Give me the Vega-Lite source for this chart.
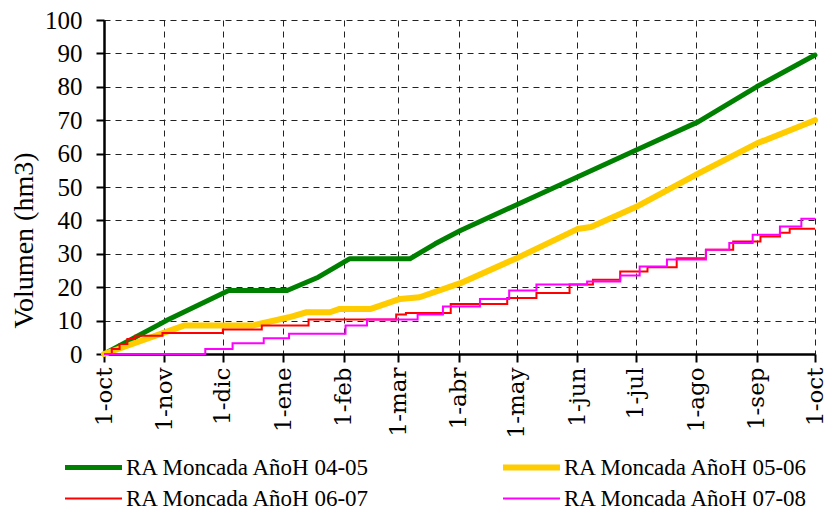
{
  "$schema": "https://vega.github.io/schema/vega-lite/v6.json",
  "width": 711,
  "height": 334,
  "padding": {"left": 10, "top": 8, "right": 5, "bottom": 5},
  "background": "white",
  "datasets": {
    "smooth": [
      {"serie": "RA Moncada AñoH 04-05", "dia": 0, "vol": 0},
      {"serie": "RA Moncada AñoH 04-05", "dia": 32, "vol": 10},
      {"serie": "RA Moncada AñoH 04-05", "dia": 64, "vol": 19},
      {"serie": "RA Moncada AñoH 04-05", "dia": 94, "vol": 19},
      {"serie": "RA Moncada AñoH 04-05", "dia": 110, "vol": 23},
      {"serie": "RA Moncada AñoH 04-05", "dia": 126, "vol": 28.5},
      {"serie": "RA Moncada AñoH 04-05", "dia": 157, "vol": 28.5},
      {"serie": "RA Moncada AñoH 04-05", "dia": 170, "vol": 33},
      {"serie": "RA Moncada AñoH 04-05", "dia": 183, "vol": 37},
      {"serie": "RA Moncada AñoH 04-05", "dia": 213, "vol": 45},
      {"serie": "RA Moncada AñoH 04-05", "dia": 243, "vol": 53},
      {"serie": "RA Moncada AñoH 04-05", "dia": 273, "vol": 61},
      {"serie": "RA Moncada AñoH 04-05", "dia": 305, "vol": 69.5},
      {"serie": "RA Moncada AñoH 04-05", "dia": 335, "vol": 80},
      {"serie": "RA Moncada AñoH 04-05", "dia": 365, "vol": 89.5},
      {"serie": "RA Moncada AñoH 05-06", "dia": 0, "vol": 0},
      {"serie": "RA Moncada AñoH 05-06", "dia": 41, "vol": 8.5},
      {"serie": "RA Moncada AñoH 05-06", "dia": 76, "vol": 8.5},
      {"serie": "RA Moncada AñoH 05-06", "dia": 95, "vol": 11},
      {"serie": "RA Moncada AñoH 05-06", "dia": 104, "vol": 12.5},
      {"serie": "RA Moncada AñoH 05-06", "dia": 116, "vol": 12.5},
      {"serie": "RA Moncada AñoH 05-06", "dia": 121, "vol": 13.5},
      {"serie": "RA Moncada AñoH 05-06", "dia": 137, "vol": 13.5},
      {"serie": "RA Moncada AñoH 05-06", "dia": 152, "vol": 16.5},
      {"serie": "RA Moncada AñoH 05-06", "dia": 162, "vol": 17},
      {"serie": "RA Moncada AñoH 05-06", "dia": 183, "vol": 21.2},
      {"serie": "RA Moncada AñoH 05-06", "dia": 213, "vol": 29},
      {"serie": "RA Moncada AñoH 05-06", "dia": 243, "vol": 37.4},
      {"serie": "RA Moncada AñoH 05-06", "dia": 250, "vol": 38},
      {"serie": "RA Moncada AñoH 05-06", "dia": 273, "vol": 44},
      {"serie": "RA Moncada AñoH 05-06", "dia": 305, "vol": 54},
      {"serie": "RA Moncada AñoH 05-06", "dia": 335, "vol": 63},
      {"serie": "RA Moncada AñoH 05-06", "dia": 365, "vol": 70}
    ],
    "steps": [
      {"serie": "RA Moncada AñoH 06-07", "dia": 0, "vol": 0},
      {"serie": "RA Moncada AñoH 06-07", "dia": 4, "vol": 1.5},
      {"serie": "RA Moncada AñoH 06-07", "dia": 8, "vol": 3},
      {"serie": "RA Moncada AñoH 06-07", "dia": 12, "vol": 4.5},
      {"serie": "RA Moncada AñoH 06-07", "dia": 16, "vol": 5.5},
      {"serie": "RA Moncada AñoH 06-07", "dia": 30, "vol": 6.3},
      {"serie": "RA Moncada AñoH 06-07", "dia": 61, "vol": 7.3},
      {"serie": "RA Moncada AñoH 06-07", "dia": 81, "vol": 8.5},
      {"serie": "RA Moncada AñoH 06-07", "dia": 105, "vol": 10.3},
      {"serie": "RA Moncada AñoH 06-07", "dia": 150, "vol": 11.8},
      {"serie": "RA Moncada AñoH 06-07", "dia": 155, "vol": 12.3},
      {"serie": "RA Moncada AñoH 06-07", "dia": 178, "vol": 15},
      {"serie": "RA Moncada AñoH 06-07", "dia": 207, "vol": 16.8},
      {"serie": "RA Moncada AñoH 06-07", "dia": 222, "vol": 18.3},
      {"serie": "RA Moncada AñoH 06-07", "dia": 239, "vol": 20.8},
      {"serie": "RA Moncada AñoH 06-07", "dia": 251, "vol": 22.2},
      {"serie": "RA Moncada AñoH 06-07", "dia": 265, "vol": 24.7},
      {"serie": "RA Moncada AñoH 06-07", "dia": 279, "vol": 26},
      {"serie": "RA Moncada AñoH 06-07", "dia": 294, "vol": 28.7},
      {"serie": "RA Moncada AñoH 06-07", "dia": 309, "vol": 31.2},
      {"serie": "RA Moncada AñoH 06-07", "dia": 323, "vol": 33.7},
      {"serie": "RA Moncada AñoH 06-07", "dia": 337, "vol": 35.2},
      {"serie": "RA Moncada AñoH 06-07", "dia": 347, "vol": 36.3},
      {"serie": "RA Moncada AñoH 06-07", "dia": 352, "vol": 37.5},
      {"serie": "RA Moncada AñoH 06-07", "dia": 365, "vol": 37.5},
      {"serie": "RA Moncada AñoH 07-08", "dia": 0, "vol": 0},
      {"serie": "RA Moncada AñoH 07-08", "dia": 48, "vol": 0},
      {"serie": "RA Moncada AñoH 07-08", "dia": 52, "vol": 1.5},
      {"serie": "RA Moncada AñoH 07-08", "dia": 66, "vol": 3.2},
      {"serie": "RA Moncada AñoH 07-08", "dia": 82, "vol": 4.7},
      {"serie": "RA Moncada AñoH 07-08", "dia": 95, "vol": 6.1},
      {"serie": "RA Moncada AñoH 07-08", "dia": 124, "vol": 8.5},
      {"serie": "RA Moncada AñoH 07-08", "dia": 135, "vol": 10.3},
      {"serie": "RA Moncada AñoH 07-08", "dia": 161, "vol": 11.8},
      {"serie": "RA Moncada AñoH 07-08", "dia": 174, "vol": 14.2},
      {"serie": "RA Moncada AñoH 07-08", "dia": 193, "vol": 16.5},
      {"serie": "RA Moncada AñoH 07-08", "dia": 208, "vol": 19},
      {"serie": "RA Moncada AñoH 07-08", "dia": 222, "vol": 20.8},
      {"serie": "RA Moncada AñoH 07-08", "dia": 248, "vol": 21.7},
      {"serie": "RA Moncada AñoH 07-08", "dia": 265, "vol": 23.5},
      {"serie": "RA Moncada AñoH 07-08", "dia": 275, "vol": 26.2},
      {"serie": "RA Moncada AñoH 07-08", "dia": 289, "vol": 28.3},
      {"serie": "RA Moncada AñoH 07-08", "dia": 309, "vol": 31.2},
      {"serie": "RA Moncada AñoH 07-08", "dia": 321, "vol": 33.2},
      {"serie": "RA Moncada AñoH 07-08", "dia": 333, "vol": 35.7},
      {"serie": "RA Moncada AñoH 07-08", "dia": 347, "vol": 38.2},
      {"serie": "RA Moncada AñoH 07-08", "dia": 358, "vol": 40.5},
      {"serie": "RA Moncada AñoH 07-08", "dia": 365, "vol": 40.5}
    ]
  },
  "encoding": {
    "x": {
      "field": "dia", "type": "quantitative",
      "scale": {"domain": [0, 365], "nice": false, "zero": false},
      "axis": {
        "title": null,
        "grid": true,
        "values": [0, 31, 61, 92, 123, 151, 182, 212, 243, 273, 304, 335, 365],
        "labelExpr": "['1-oct','1-nov','1-dic','1-ene','1-feb','1-mar','1-abr','1-may','1-jun','1-jul','1-ago','1-sep','1-oct'][indexof([0,31,61,92,123,151,182,212,243,273,304,335,365], datum.value)]",
        "labelAngle": 270,
        "labelFont": "DejaVu Serif",
        "labelFontSize": 23,
        "labelPadding": 5,
        "labelBound": false,
        "labelOverlap": false,
        "labelFlush": false
      }
    },
    "y": {
      "field": "vol", "type": "quantitative",
      "scale": {"domain": [0, 100], "nice": false},
      "axis": {
        "title": "Volumen (hm3)",
        "grid": true,
        "values": [0, 10, 20, 30, 40, 50, 60, 70, 80, 90, 100],
        "labelFontSize": 25,
        "labelPadding": 14,
        "titlePadding": 6,
        "titleY": 220,
        "titleFontSize": 28,
        "labelFlush": false,
        "labelOverlap": false
      }
    },
    "color": {
      "field": "serie", "type": "nominal",
      "scale": {
        "domain": ["RA Moncada AñoH 04-05", "RA Moncada AñoH 05-06", "RA Moncada AñoH 06-07", "RA Moncada AñoH 07-08"],
        "range": ["#008000", "#FFCC00", "#FF0000", "#FF00FF"]
      },
      "legend": {
        "title": null,
        "orient": "none",
        "direction": "horizontal",
        "legendX": -42,
        "legendY": 432,
        "columns": 2,
        "columnPadding": 129,
        "rowPadding": 0,
        "clipHeight": 31,
        "symbolType": "stroke",
        "symbolSize": 3249,
        "labelOffset": 1,
        "labelFontSize": 23,
        "labelLimit": 400
      }
    },
    "strokeWidth": {
      "field": "serie", "type": "nominal",
      "scale": {
        "type": "ordinal",
        "domain": ["RA Moncada AñoH 04-05", "RA Moncada AñoH 05-06", "RA Moncada AñoH 06-07", "RA Moncada AñoH 07-08"],
        "range": [5, 6, 2, 2]
      },
      "legend": null
    }
  },
  "layer": [
    {"data": {"name": "smooth"}, "mark": {"type": "line", "interpolate": "linear", "strokeCap": "round", "strokeJoin": "round"}},
    {"data": {"name": "steps"}, "mark": {"type": "line", "interpolate": "step-after"}}
  ],
  "config": {
    "font": "Liberation Serif, DejaVu Serif, serif",
    "view": {"stroke": null},
    "axis": {
      "labelFont": "Liberation Serif, DejaVu Serif, serif",
      "titleFont": "Liberation Serif, DejaVu Serif, serif",
      "labelColor": "#000000",
      "titleColor": "#000000",
      "titleFontWeight": "normal",
      "titleFontSize": 26,
      "domainColor": "#000000",
      "domainWidth": 2.5,
      "tickColor": "#000000",
      "tickWidth": 2,
      "tickSize": 8,
      "grid": true,
      "gridColor": "#222222",
      "gridOpacity": 1,
      "gridDash": [6, 5],
      "gridWidth": 1
    },
    "legend": {
      "labelFont": "Liberation Serif, DejaVu Serif, serif",
      "labelColor": "#000000"
    }
  }
}
